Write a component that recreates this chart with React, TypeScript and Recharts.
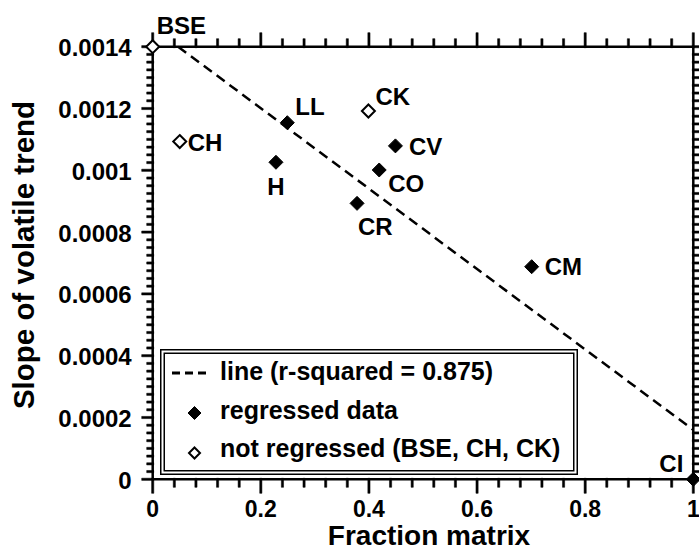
import React from 'react';
import { ComposedChart, XAxis, YAxis, Scatter, Line, Legend } from 'recharts';

// regressed samples (filled diamonds)
const regressedNames = ['LL', 'H', 'CV', 'CO', 'CR', 'CM', 'CI'];
const regressedX = [0.249, 0.228, 0.449, 0.419, 0.378, 0.701, 1];
const regressedY = [0.001154, 0.001026, 0.001079, 0.001001, 0.000893, 0.000688, 0];

// not regressed (open diamonds)
const openNames = ['BSE', 'CH', 'CK'];
const openX = [0, 0.05, 0.399];
const openY = [0.0014, 0.001093, 0.001192];

// fitted line, r-squared = 0.875
const fitX = [0.047, 1];
const fitY = [0.0014, 0.00016];

const xTickLabels = ['0', '0.2', '0.4', '0.6', '0.8', '1'];
const yTickLabels = ['0', '0.0002', '0.0004', '0.0006', '0.0008', '0.001', '0.0012', '0.0014'];

const FONT = '"Liberation Sans", Arial, Helvetica, sans-serif';

const regressedData = regressedNames.map((name, i) => ({ name, x: regressedX[i], y: regressedY[i] }));
const openData = openNames.map((name, i) => ({ name, x: openX[i], y: openY[i] }));
const fitData = fitX.map((x, i) => ({ x, y: fitY[i] }));

const xMajor = xTickLabels.map(Number);
const yMajor = yTickLabels.map(Number);
const xMinor = Array.from({ length: 26 }, (_, i) => +(i * 0.04).toFixed(2));
const yMinor = Array.from({ length: 57 }, (_, i) => +(i * 0.000025).toFixed(6));

const isMajor = (v: number, majors: number[]) => majors.some((m) => Math.abs(m - v) < 1e-9);
const labelOf = (v: number, majors: number[], labels: string[]) => {
  const i = majors.findIndex((m) => Math.abs(m - v) < 1e-9);
  return i >= 0 ? labels[i] : '';
};

// tick marks on the four sides of the frame
const bottomMarks = xMinor.map((x) => ({ x, y: 0 }));
const topMarks = xMinor.map((x) => ({ x, y: 0.0014 }));
const leftMarks = yMinor.map((y) => ({ x: 0, y }));
const rightMarks = yMinor.map((y) => ({ x: 1, y }));

const labelPlacement: Record<string, { dx: number; dy: number; anchor: string }> = {
  BSE: { dx: 4, dy: -13, anchor: 'start' },
  CH: { dx: 8, dy: 9.5, anchor: 'start' },
  LL: { dx: 8, dy: -7.5, anchor: 'start' },
  H: { dx: 0, dy: 33, anchor: 'middle' },
  CK: { dx: 7, dy: -6, anchor: 'start' },
  CV: { dx: 13.5, dy: 9, anchor: 'start' },
  CO: { dx: 9, dy: 22.5, anchor: 'start' },
  CR: { dx: 1, dy: 31.5, anchor: 'start' },
  CM: { dx: 13, dy: 8.5, anchor: 'start' },
  CI: { dx: -10, dy: -7.5, anchor: 'end' },
};

const diamondPoints = (cx: number, cy: number, r: number) =>
  `${cx},${cy - r} ${cx + r},${cy} ${cx},${cy + r} ${cx - r},${cy}`;

const makeDiamond = (open: boolean) => (props: any) => {
  const { cx, cy, payload } = props;
  const p = labelPlacement[payload.name];
  return (
    <g>
      <polygon
        points={diamondPoints(cx, cy, open ? 6.5 : 7)}
        fill={open ? '#fff' : '#000'}
        stroke="#000"
        strokeWidth={open ? 2 : 1}
      />
      <text
        x={cx + p.dx}
        y={cy + p.dy}
        textAnchor={p.anchor as any}
        fontFamily={FONT}
        fontWeight="bold"
        fontSize={24}
        fill="#000"
      >
        {payload.name}
      </text>
    </g>
  );
};

// each mark is a small filled quad, like the diamonds, starting just inside the frame
const makeTickMark = (side: 'bottom' | 'top' | 'left' | 'right') => (props: any) => {
  const cx = Number(props.cx);
  const cy = Number(props.cy);
  const { payload } = props;
  let pts = '';
  if (side === 'bottom' || side === 'top') {
    const len = isMajor(payload.x, xMajor) ? 14 : 8;
    const a = side === 'bottom' ? cy - 1 : cy + 1;
    const b = side === 'bottom' ? cy + len : cy - len;
    pts = `${cx - 1.1},${a} ${cx + 1.1},${a} ${cx + 1.1},${b} ${cx - 1.1},${b}`;
  } else {
    const len = isMajor(payload.y, yMajor) ? 11 : 6;
    const a = side === 'left' ? cx + 1 : cx - 1;
    const b = side === 'left' ? cx - len : cx + len;
    pts = `${a},${cy - 1.1} ${b},${cy - 1.1} ${b},${cy + 1.1} ${a},${cy + 1.1}`;
  }
  return (
    <g className="tick-mark">
      <polygon points={pts} fill="#000" stroke="#000" strokeWidth={0.5} />
    </g>
  );
};

const BottomLabel = (props: any) => (
  <text x={props.x} y={Number(props.y) + 37.5} textAnchor="middle" fontFamily={FONT} fontWeight="bold" fontSize={23} fill="#000">
    {labelOf(props.payload.value, xMajor, xTickLabels)}
  </text>
);

const LeftLabel = (props: any) => (
  <text x={Number(props.x) - 21} y={Number(props.y) + 9.5} textAnchor="end" fontFamily={FONT} fontWeight="bold" fontSize={24} fill="#000">
    {labelOf(props.payload.value, yMajor, yTickLabels)}
  </text>
);

const XTitle = (props: any) => {
  const vb = props.viewBox;
  return (
    <text x={vb.x + vb.width / 2 + 6} y={545} textAnchor="middle" fontFamily={FONT} fontWeight="bold" fontSize={28} fill="#000">
      Fraction matrix
    </text>
  );
};

const YTitle = (props: any) => {
  const vb = props.viewBox;
  const cy = vb.y + vb.height / 2 - 8;
  return (
    <text
      x={34}
      y={cy}
      transform={`rotate(-90, 34, ${cy})`}
      textAnchor="middle"
      fontFamily={FONT}
      fontWeight="bold"
      fontSize={29.5}
      fill="#000"
    >
      Slope of volatile trend
    </text>
  );
};

const LegendBox = () => (
  <svg width={418} height={126} style={{ display: 'block' }}>
    <rect x={0.75} y={0.75} width={416.5} height={124.5} fill="#fff" stroke="#000" strokeWidth={1.5} />
    <rect x={4.25} y={4.25} width={409.5} height={117.5} fill="none" stroke="#000" strokeWidth={1.5} />
    <line x1={12} x2={48} y1={24} y2={24} stroke="#000" strokeWidth={3} strokeDasharray="8 5" />
    <text x={60} y={31} fontFamily={FONT} fontWeight="bold" fontSize={25} fill="#000">
      line (r-squared = 0.875)
    </text>
    <polygon points={diamondPoints(34.5, 64, 6.5)} fill="#000" stroke="#000" />
    <text x={60} y={69.5} fontFamily={FONT} fontWeight="bold" fontSize={25} fill="#000">
      regressed data
    </text>
    <polygon points={diamondPoints(34.5, 104, 5.5)} fill="#fff" stroke="#000" strokeWidth={2} />
    <text x={60} y={108} fontFamily={FONT} fontWeight="bold" fontSize={25} fill="#000">
      not regressed (BSE, CH, CK)
    </text>
  </svg>
);

const axisLine = { stroke: '#000', strokeWidth: 2.5 };

export default function App() {
  return (
    <div style={{ position: 'absolute', left: 0, top: 0, background: '#fff' }}>
      <ComposedChart width={699} height={550} margin={{ top: 0, right: 0, bottom: 0, left: 0 }}>
        <XAxis
          dataKey="x"
          type="number"
          domain={[0, 1]}
          ticks={xMajor}
          interval={0}
          height={70.7}
          tickSize={0}
          tickMargin={0}
          tickLine={false}
          axisLine={axisLine}
          tick={BottomLabel}
          label={<XTitle />}
        />
        <XAxis
          xAxisId="top"
          orientation="top"
          type="number"
          domain={[0, 1]}
          ticks={xMajor}
          height={46.7}
          tickLine={false}
          axisLine={axisLine}
          tick={false}
        />
        <YAxis
          dataKey="y"
          type="number"
          domain={[0, 0.0014]}
          ticks={yMajor}
          interval={0}
          width={152.7}
          tickSize={0}
          tickMargin={0}
          tickLine={false}
          axisLine={axisLine}
          tick={LeftLabel}
          label={<YTitle />}
        />
        <YAxis
          yAxisId="right"
          orientation="right"
          type="number"
          domain={[0, 0.0014]}
          ticks={yMajor}
          width={5.7}
          tickLine={false}
          axisLine={axisLine}
          tick={false}
        />
        <Line
          data={fitData}
          dataKey="y"
          type="linear"
          stroke="#000"
          strokeWidth={2.5}
          strokeDasharray="10 6"
          dot={false}
          activeDot={false}
          legendType="none"
          isAnimationActive={false}
        />
        <Scatter data={bottomMarks} shape={makeTickMark('bottom')} legendType="none" isAnimationActive={false} />
        <Scatter data={topMarks} shape={makeTickMark('top')} legendType="none" isAnimationActive={false} />
        <Scatter data={leftMarks} shape={makeTickMark('left')} legendType="none" isAnimationActive={false} />
        <Scatter data={rightMarks} shape={makeTickMark('right')} legendType="none" isAnimationActive={false} />
        <Scatter data={regressedData} shape={makeDiamond(false)} isAnimationActive={false} />
        <Scatter data={openData} shape={makeDiamond(true)} isAnimationActive={false} />
        <Legend
          layout="vertical"
          align="center"
          verticalAlign="middle"
          content={() => <LegendBox />}
          wrapperStyle={{ left: 160, top: 349, width: 418, height: 126 }}
        />
      </ComposedChart>
    </div>
  );
}
